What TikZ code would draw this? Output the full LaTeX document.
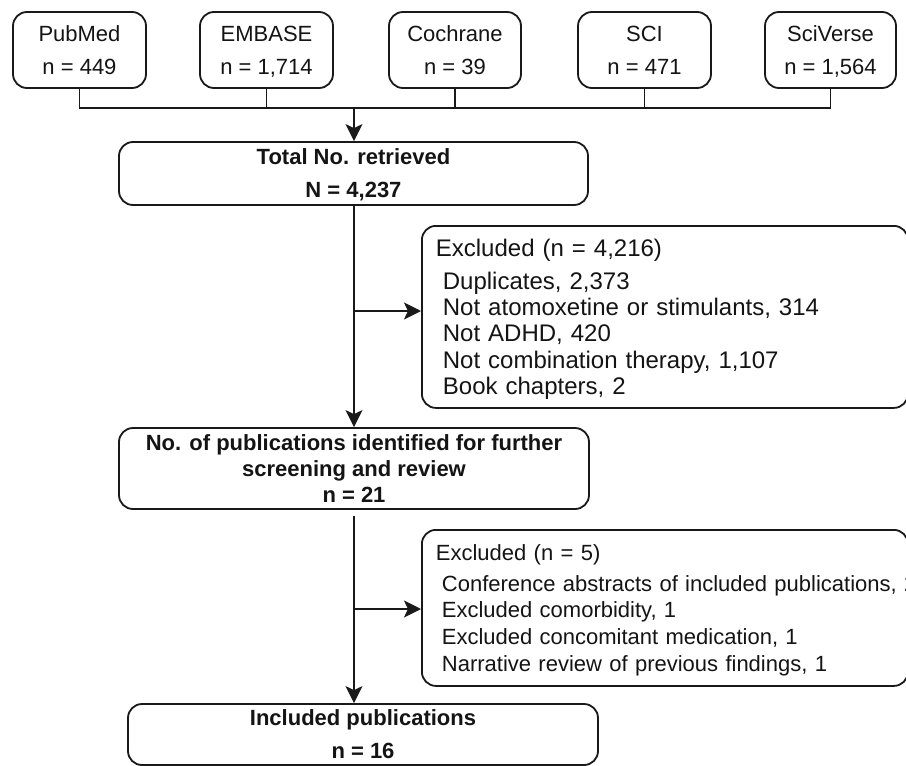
\documentclass[tikz,border=0pt]{standalone}
\usepackage{fontspec}
\setmainfont{Liberation Sans}
\usetikzlibrary{arrows.meta}
\newcommand\capr{\rule{0pt}{0.716em}}
\newcommand\sm[1]{\smash{#1}}
\begin{document}
\begin{tikzpicture}[x=1pt,y=-1pt,
  box/.style={draw=black!90, line width=1.8pt, rounded corners=14pt, inner sep=0pt, align=center, text=black!92},
  src/.style={box, minimum width=133pt, minimum height=76pt, font=\fontsize{22}{33}\selectfont},
  mainbox/.style={box, font=\bfseries\fontsize{22}{33}\selectfont},
  excl/.style={box, anchor=north west, align=left, inner xsep=14pt},
  conn/.style={line width=1.8pt, draw=black!90},
  arr/.style={conn, -{Stealth[length=17pt,width=17pt,inset=4pt]}}]
\clip (0,0) rectangle (906,766);
\fill[white] (0,0) rectangle (906,766);

% source boxes
\node[src] (pub) at (79.5,50) {\capr\sm{PubMed}\\\sm{n = 449}};
\node[src] (emb) at (266.5,50) {\capr\sm{EMBASE}\\\sm{n = 1,714}};
\node[src, minimum width=132pt] (coc) at (455,50) {\capr\sm{Cochrane}\\\sm{n = 39}};
\node[src] (sci) at (644.5,50) {\capr\sm{SCI}\\\sm{n = 471}};
\node[src, minimum width=131pt] (scv) at (830.5,50) {\capr\sm{SciVerse}\\\sm{n = 1,564}};

% main boxes
\node[mainbox, minimum width=469pt, minimum height=63pt] (total) at (353.5,173.5) {\capr\sm{Total No. retrieved}\\\sm{N = 4,237}};
\node[mainbox, minimum width=470pt, minimum height=81pt, font=\bfseries\fontsize{22}{26}\selectfont] (pubs) at (354,468.5) {\capr\sm{No. of publications identified for further}\\\sm{screening and review}\\\sm{n = 21}};
\node[mainbox, minimum width=470pt, minimum height=61pt] (incl) at (363,734.5) {\capr\sm{Included publications}\\\sm{n = 16}};

% exclusion boxes
\node[excl, minimum width=486pt, minimum height=182pt, text width=458pt, font=\fontsize{24}{26.3}\selectfont] (ex1) at (421,225)
  {\capr\sm{Excluded (n = 4,216)}\\[6.7pt]
   \hspace*{7pt}\sm{Duplicates, 2,373}\\
   \hspace*{7pt}\sm{Not atomoxetine or stimulants, 314}\\
   \hspace*{7pt}\sm{Not ADHD, 420}\\
   \hspace*{7pt}\sm{Not combination therapy, 1,107}\\
   \hspace*{7pt}\sm{Book chapters, 2}};
\node[excl, minimum width=486pt, minimum height=156pt, text width=458pt, font=\fontsize{22}{26.7}\selectfont] (ex2) at (421,529)
  {\capr\sm{Excluded (n = 5)}\\[4.3pt]
   \hspace*{6pt}\sm{Conference abstracts of included publications, 2}\\
   \hspace*{6pt}\sm{Excluded comorbidity, 1}\\
   \hspace*{6pt}\sm{Excluded concomitant medication, 1}\\
   \hspace*{6pt}\sm{Narrative review of previous findings, 1}};

% connectors
\coordinate (bus) at (354,108);
\draw[conn] (pub.south) |- (scv.south |- bus) -- (scv.south);
\foreach \n in {emb,coc,sci} \draw[conn] (\n.south) -- (\n.south |- bus);
\draw[arr] (bus) -- (bus |- total.north);
\draw[arr] (total.south -| bus) -- (bus |- pubs.north);
\coordinate (j1) at (354,311);
\draw[arr] (j1) -- (j1 -| ex1.west);
\draw[arr, shorten <=6pt] (pubs.south) -- (pubs.south |- incl.north);
\coordinate (j2) at (354,609);
\draw[arr] (j2) -- (j2 -| ex2.west);
\end{tikzpicture}
\end{document}
